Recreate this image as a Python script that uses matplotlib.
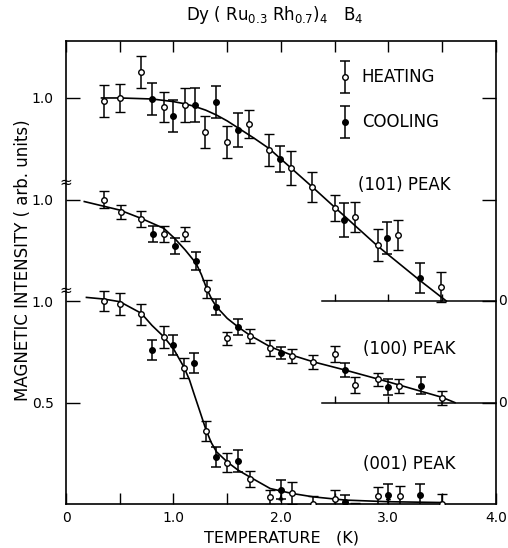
import matplotlib
matplotlib.use("Agg")
import matplotlib.pyplot as plt
import numpy as np

plt.rcParams['font.family'] = ['DejaVu Sans']
plt.rcParams['mathtext.default'] = 'regular'

# vertical offsets of the three stacked curves (data units)
off_101 = 1.0
off_100 = 0.5
off_001 = 0.0

# ---- (101) peak ----
t101_heat = [0.35, 0.50, 0.70, 0.91, 1.11, 1.29, 1.50, 1.70, 1.89, 2.09, 2.29, 2.50, 2.69, 2.90, 3.09, 3.49]
i101_heat = [0.985, 1.0, 1.13, 0.957, 0.966, 0.831, 0.782, 0.872, 0.744, 0.657, 0.562, 0.458, 0.415, 0.276, 0.325, 0.067]
e101_heat = [0.079, 0.069, 0.079, 0.074, 0.084, 0.079, 0.079, 0.069, 0.079, 0.084, 0.074, 0.064, 0.074, 0.079, 0.074, 0.074]
t101_cool = [0.80, 1.00, 1.20, 1.40, 1.60, 1.99, 2.59, 2.99, 3.29]
i101_cool = [0.994, 0.911, 0.966, 0.982, 0.842, 0.698, 0.399, 0.312, 0.115]
e101_cool = [0.079, 0.079, 0.084, 0.079, 0.084, 0.064, 0.084, 0.079, 0.074]
t101_fit = [0.33, 0.5, 0.8, 1.0, 1.1, 1.2, 1.3, 1.4, 1.5, 1.6, 1.75, 1.89, 2.09, 2.29, 2.5, 2.9, 3.29, 3.54]
i101_fit = [1.0, 1.0, 0.995, 0.982, 0.972, 0.958, 0.94, 0.916, 0.887, 0.853, 0.802, 0.751, 0.657, 0.563, 0.462, 0.271, 0.103, 0.0]

# ---- (100) peak ----
t100_heat = [0.35, 0.51, 0.70, 0.91, 1.11, 1.31, 1.50, 1.71, 1.90, 2.10, 2.30, 2.50, 2.69, 2.90, 3.10, 3.50]
i100_heat = [1.0, 0.94, 0.904, 0.83, 0.83, 0.56, 0.316, 0.329, 0.267, 0.231, 0.201, 0.239, 0.086, 0.114, 0.083, 0.021]
e100_heat = [0.044, 0.034, 0.039, 0.039, 0.034, 0.044, 0.034, 0.034, 0.039, 0.034, 0.034, 0.039, 0.039, 0.034, 0.034, 0.034]
t100_cool = [0.81, 1.01, 1.21, 1.40, 1.60, 2.00, 2.60, 3.00, 3.30]
i100_cool = [0.829, 0.771, 0.699, 0.472, 0.373, 0.245, 0.160, 0.078, 0.084]
e100_cool = [0.039, 0.039, 0.044, 0.039, 0.039, 0.030, 0.034, 0.039, 0.044]
t100_fit = [0.17, 0.5, 0.7, 0.91, 1.01, 1.11, 1.21, 1.26, 1.31, 1.36, 1.40, 1.50, 1.60, 1.71, 1.90, 2.10, 2.30, 2.60, 3.0, 3.5, 3.62]
i100_fit = [0.99, 0.948, 0.907, 0.858, 0.809, 0.751, 0.686, 0.63, 0.56, 0.505, 0.472, 0.415, 0.373, 0.332, 0.275, 0.234, 0.201, 0.160, 0.102, 0.026, 0.0]

# ---- (001) peak ----
t001_heat = [0.35, 0.50, 0.70, 0.91, 1.10, 1.30, 1.50, 1.71, 1.90, 2.10, 2.30, 2.50, 2.69, 2.90, 3.11, 3.50]
i001_heat = [1.0, 0.984, 0.934, 0.821, 0.672, 0.361, 0.205, 0.123, 0.033, 0.053, 0.003, 0.025, -0.033, 0.039, 0.041, 0.0]
e001_heat = [0.049, 0.054, 0.054, 0.054, 0.049, 0.049, 0.049, 0.039, 0.039, 0.054, 0.039, 0.044, 0.039, 0.044, 0.049, 0.049]
t001_cool = [0.80, 1.00, 1.19, 1.40, 1.60, 2.00, 2.60, 3.00, 3.29]
i001_cool = [0.759, 0.783, 0.696, 0.233, 0.213, 0.072, 0.011, 0.044, 0.046]
e001_cool = [0.049, 0.049, 0.049, 0.049, 0.054, 0.049, 0.034, 0.054, 0.054]
t001_fit = [0.19, 0.35, 0.5, 0.7, 0.8, 0.91, 1.0, 1.1, 1.15, 1.19, 1.25, 1.3, 1.35, 1.4, 1.5, 1.6, 1.71, 1.9, 2.1, 2.3, 2.6, 3.0, 3.5]
i001_fit = [1.018, 1.01, 0.997, 0.94, 0.88, 0.824, 0.765, 0.672, 0.61, 0.545, 0.45, 0.37, 0.305, 0.258, 0.208, 0.168, 0.134, 0.077, 0.053, 0.036, 0.02, 0.012, 0.008]

xticks = [0, 1, 2, 3, 4]
xticklabels = ['0', '1.0', '2.0', '3.0', '4.0']
yticks = [2.0, 1.5, 1.0, 0.5]
yticklabels = ['1.0', '1.0', '1.0', '0.5']

fig = plt.figure(figsize=(5.08, 5.48), dpi=100)
ax = fig.add_axes([0.130, 0.080, 0.846, 0.845])

curves = [
    (off_101, t101_heat, i101_heat, e101_heat, t101_cool, i101_cool, e101_cool, t101_fit, i101_fit),
    (off_100, t100_heat, i100_heat, e100_heat, t100_cool, i100_cool, e100_cool, t100_fit, i100_fit),
    (off_001, t001_heat, i001_heat, e001_heat, t001_cool, i001_cool, e001_cool, t001_fit, i001_fit),
]
ekw = dict(fmt='o', ms=4, capsize=3.5, elinewidth=1.1, capthick=1.1, color='k', zorder=3)
for off, th, ih, eh, tc, ic, ec, tf, fi in curves:
    ax.plot(tf, np.array(fi) + off, color='k', lw=1.2, zorder=2)
    ax.errorbar(th, np.array(ih) + off, yerr=eh, mfc='white', mec='k', mew=1.0, **ekw)
    ax.errorbar(tc, np.array(ic) + off, yerr=ec, mfc='k', mec='k', **ekw)

ax.set_xlim(0, 4.0)
ax.set_ylim(0, 2.28)

ax.set_xticks(xticks)
ax.set_xticklabels(xticklabels, fontsize=10)
ax.set_xticks([0.5, 1.5, 2.5, 3.5], minor=True)
ax.set_yticks(yticks)
ax.set_yticklabels(yticklabels, fontsize=10)
ax.tick_params(axis='x', which='both', direction='in', top=True, length=8, width=1, pad=5)
ax.tick_params(axis='y', direction='in', right=True, length=10, width=1, pad=9)
for s in ax.spines.values():
    s.set_linewidth(1.2)

# zero baselines of the upper two curves, with their little ticks
for off in (off_101, off_100):
    ax.plot([2.38, 4.0], [off, off], color='k', lw=1.1, clip_on=False)
    ax.vlines([2.5, 3.0, 3.5], off, off + 0.035, color='k', lw=1.0)
    ax.text(4.025, off, '0', fontsize=10, ha='left', va='center', clip_on=False)

# axis breaks
for yb in (1.586, 1.054):
    ax.text(0, yb, '≈', fontsize=11, ha='center', va='center', clip_on=False)

# arrows on the temperature axis
for xa in (2.0, 3.0):
    ax.annotate('', xy=(xa, 0.06), xytext=(xa, 0.0),
                arrowprops=dict(arrowstyle='-|>', lw=0.8, color='k', mutation_scale=7))

# legend drawn by hand
ax.errorbar([0.649], [0.922], yerr=[0.035], transform=ax.transAxes, mfc='white', mec='k', **ekw)
ax.errorbar([0.649], [0.825], yerr=[0.035], transform=ax.transAxes, mfc='k', mec='k', **ekw)
ax.text(0.688, 0.922, 'HEATING', transform=ax.transAxes, fontsize=12, va='center')
ax.text(0.688, 0.825, 'COOLING', transform=ax.transAxes, fontsize=12, va='center')

ax.text(2.72, 1.571, '(101) PEAK', fontsize=12, va='center')
ax.text(2.76, 0.764, '(100) PEAK', fontsize=12, va='center')
ax.text(2.76, 0.197, '(001) PEAK', fontsize=12, va='center')

fig.text(0.555, 0.004, 'TEMPERATURE   (K)', fontsize=11.5, ha='center', va='bottom')
fig.text(0.045, 0.525, 'MAGNETIC INTENSITY ( arb. units)', rotation=90,
         fontsize=12, ha='center', va='center')
fig.text(0.54, 0.972, 'Dy ( Ru$_{0.3}$ Rh$_{0.7}$)$_4$   B$_4$', fontsize=12,
         ha='center', va='center')

fig.savefig('out.png', dpi=100)
